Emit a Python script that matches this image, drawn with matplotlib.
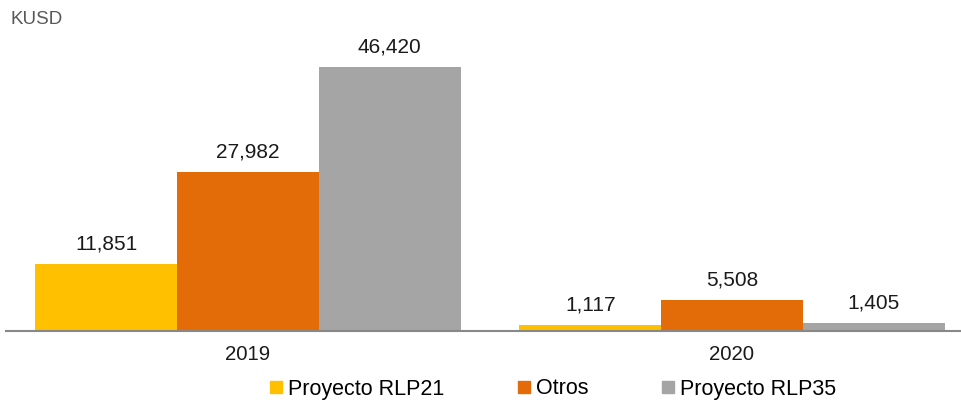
import numpy as np
import matplotlib.pyplot as plt
from matplotlib.lines import Line2D

years = ['2019', '2020']
series_names = ['Proyecto RLP21', 'Otros', 'Proyecto RLP35']
rlp21 = [11851, 1117]
otros = [27982, 5508]
rlp35 = [46420, 1405]
colors = ['#FFC000', '#E36C09', '#A5A5A5']

plt.rcParams['font.family'] = ['Liberation Sans', 'DejaVu Sans']

fig = plt.figure(figsize=(9.61, 4.03), dpi=100)
ax = fig.add_axes([6 / 961, 72 / 403, 968 / 961, 331 / 403])

x = np.arange(len(years))
w = 0.293
for i, (vals, c) in enumerate(zip([rlp21, otros, rlp35], colors)):
    pos = x + (i - 1) * w
    ax.bar(pos, vals, w, color=c)
    for px, v in zip(pos, vals):
        ax.annotate(f'{v:,}', (px, v), xytext=(0, 7.5), textcoords='offset points',
                    ha='center', va='bottom', fontsize=15, color='#1a1a1a')

ax.set_xlim(-0.5, 1.5)
ax.set_ylim(0, 58200)
ax.set_xticks(x)
ax.set_xticklabels(years, fontsize=14.7, color='#1a1a1a')
ax.tick_params(axis='x', length=0, pad=10)
ax.set_yticks([])
for s in ['top', 'right', 'left']:
    ax.spines[s].set_visible(False)
ax.spines['bottom'].set_color('#888888')
ax.spines['bottom'].set_linewidth(1.5)

fig.text(10 / 961, 1 - 20 / 403, 'KUSD', fontsize=13.5, color='#595959', va='center')

handles = [Line2D([], [], marker='s', linestyle='none', color=c, markersize=9) for c in colors]
fig.legend(handles, series_names, loc='center', bbox_to_anchor=(553 / 961, 14 / 403),
           ncol=3, frameon=False, fontsize=15.5, handlelength=0.55, handletextpad=0.3,
           columnspacing=3.4, borderpad=0)

fig.savefig('out.png', dpi=100)
